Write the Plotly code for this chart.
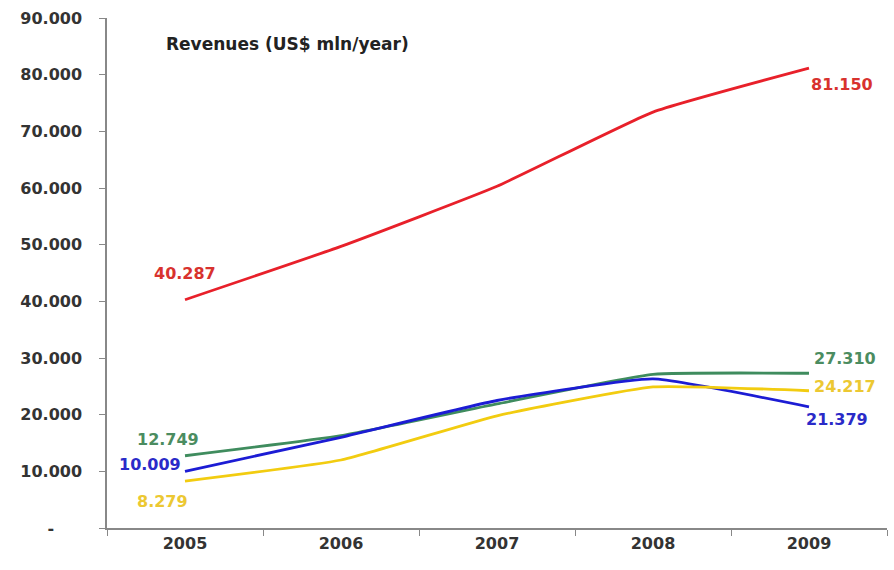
import plotly.graph_objects as go

# Annual revenues (US$ mln/year) for four series
years = ["2005", "2006", "2007", "2008", "2009"]
red_vals = [40287, 49700, 60300, 73400, 81150]
green_vals = [12749, 16300, 21900, 27100, 27310]
blue_vals = [10009, 16000, 22500, 26300, 21379]
yellow_vals = [8279, 12000, 19800, 24900, 24217]

y_ticks = [0, 10000, 20000, 30000, 40000, 50000, 60000, 70000, 80000, 90000]


def fmt(v):
    return "-" if v == 0 else f"{v:,}".replace(",", ".")


series = [
    (red_vals, "#e8202a", "#d8322e"),
    (green_vals, "#3f8c5e", "#4b8c60"),
    (blue_vals, "#1c1cd4", "#2a2ac8"),
    (yellow_vals, "#f2cc10", "#ecc832"),
]

FONT = "DejaVu Sans"

fig = go.Figure()
for vals, line_color, _ in series:
    fig.add_trace(go.Scatter(
        x=years, y=vals, mode="lines",
        line=dict(color=line_color, width=2.8, shape="spline", smoothing=0.4),
        showlegend=False, hoverinfo="skip",
    ))

# value labels: (series index, point index, xshift, yshift)
label_spots = [
    (0, 0, 0, 26), (0, 4, 33, -16),
    (1, 0, -17, 16), (1, 4, 36, 15),
    (2, 0, -35, 7), (2, 4, 28, -13),
    (3, 0, -23, -20), (3, 4, 36, 4),
]
for si, pi, dx, dy in label_spots:
    vals, _, txt_color = series[si]
    fig.add_annotation(
        x=pi, y=vals[pi], xref="x", yref="y",
        text="<b>" + fmt(vals[pi]) + "</b>", showarrow=False,
        xshift=dx, yshift=dy,
        font=dict(family=FONT, size=16, color=txt_color),
    )

fig.add_annotation(
    xref="paper", yref="paper", x=0.073, y=0.95, xanchor="left", yanchor="middle",
    text="<b>Revenues (US$ mln/year)</b>", showarrow=False,
    font=dict(family=FONT, size=17, color="#222222"),
)

tick_font = dict(family=FONT, size=16, color="#333333", weight="bold")
# accounting-style zero: the dash sits left of the number column
y_text = [fmt(v) + ("\u00a0" * 5 if v == 0 else "") for v in y_ticks]

fig.update_layout(
    width=894, height=570,
    margin=dict(l=107, r=7, t=18, b=42),
    paper_bgcolor="white", plot_bgcolor="white",
    xaxis=dict(
        type="category", tickson="boundaries", ticks="outside", ticklen=6,
        tickcolor="#888888", showline=True, linecolor="#888888", linewidth=1.5,
        showgrid=False, tickfont=tick_font, range=[-0.5, 4.5],
    ),
    yaxis=dict(
        range=[0, 90000], tickvals=y_ticks, ticktext=y_text,
        ticks="outside", ticklen=6, tickcolor="#888888", showline=True,
        linecolor="#888888", linewidth=1.5, showgrid=False, zeroline=False,
        tickfont=tick_font, ticklabelstandoff=14,
    ),
)

fig.write_html("out.html")
